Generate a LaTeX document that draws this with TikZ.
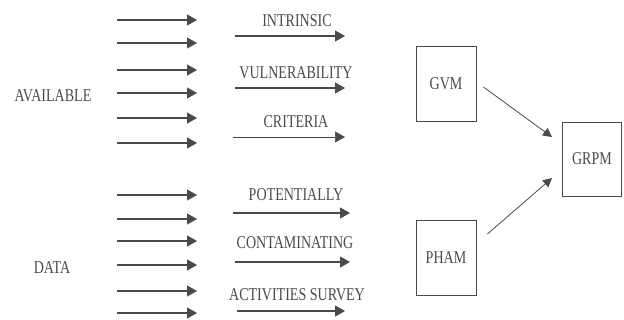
\documentclass[tikz,border=0pt]{standalone}
\usepackage{fontspec}
\setmainfont{Liberation Serif}
\newfontfamily\labfont[FakeStretch=0.78]{Liberation Serif}
\usetikzlibrary{arrows.meta,calc}
\definecolor{ink}{HTML}{4A4A4A}
\tikzset{
  lab/.style={font=\labfont\fontsize{18}{20}\selectfont, text=ink, inner sep=0pt},
  arr/.style={draw=ink, line width=1.1pt, -{Triangle[length=10pt,width=11pt]}},
  thinarr/.style={draw=ink, line width=0.6pt, -{Triangle[length=10pt,width=11pt]}},
  box/.style={draw=ink, line width=0.9pt, minimum width=60pt, minimum height=75pt, inner sep=0pt, font=\labfont\fontsize{18}{20}\selectfont, text=ink}
}
\begin{document}
\begin{tikzpicture}[x=1pt,y=-1pt]
\useasboundingbox (0,0) rectangle (624,320);
% left labels
\node[lab] (avail) at (53,96) {AVAILABLE};
\node[lab] (data) at (52,268) {DATA};
% input arrows
\foreach \i/\y in {1/20,2/43,3/70,4/93,5/118,6/143,7/195,8/219,9/241,10/265,11/291,12/313}{
  \coordinate (s\i) at (117,\y);
  \coordinate (e\i) at (197,\y);
  \draw[arr] (s\i) -- (e\i);
}
% criteria labels
\node[lab] (intr) at (297,21) {INTRINSIC};
\node[lab] (vuln) at (296,73) {VULNERABILITY};
\node[lab] (crit) at (296,122) {CRITERIA};
\node[lab] (pot) at (296,195) {POTENTIALLY};
\node[lab] (cont) at (295,243) {CONTAMINATING};
\node[lab] (act) at (297,295) {ACTIVITIES SURVEY};
\coordinate (a1s) at (235,36);  \coordinate (a1e) at (345,36);
\coordinate (a2s) at (235,88);  \coordinate (a2e) at (345,88);
\coordinate (a3s) at (233,137); \coordinate (a3e) at (345,137);
\coordinate (a4s) at (233,213); \coordinate (a4e) at (350,213);
\coordinate (a5s) at (235,262); \coordinate (a5e) at (350,262);
\coordinate (a6s) at (237,311); \coordinate (a6e) at (345,311);
\draw[arr] (a1s) -- (a1e);
\draw[arr] (a2s) -- (a2e);
\draw[thinarr] (a3s) -- (a3e);
\draw[arr] (a4s) -- (a4e);
\draw[arr] (a5s) -- (a5e);
\draw[arr] (a6s) -- (a6e);
% boxes
\node[box] (gvm) at (446,84) {GVM};
\node[box] (pham) at (446,258) {PHAM};
\node[box, minimum width=59pt, minimum height=74pt] (grpm) at (592,159) {GRPM};
\draw[draw=ink, line width=0.8pt, -{Triangle[length=9pt,width=9pt]}] ($(gvm.east)+(7,3)$) -- ($(grpm.west)+(-10,-22)$);
\draw[draw=ink, line width=0.8pt, -{Triangle[length=9pt,width=9pt]}] ($(pham.east)+(11,-24)$) -- ($(grpm.west)+(-10,19)$);
\end{tikzpicture}
\end{document}
